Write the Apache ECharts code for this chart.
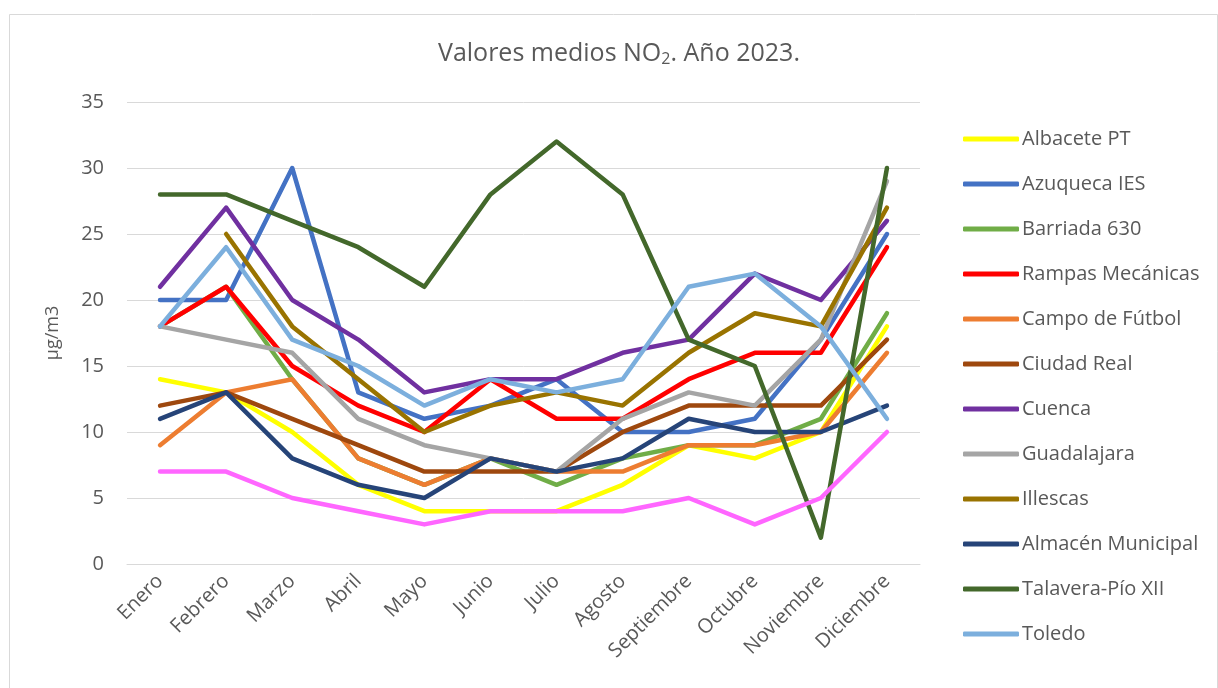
<!DOCTYPE html>
<html>
<head>
<meta charset="utf-8">
<script src="https://cdn.jsdelivr.net/npm/echarts@6/dist/echarts.min.js"></script>
<style>html,body{margin:0;padding:0;background:#fff}#c{width:1218px;height:688px}</style>
</head>
<body>
<div id="c"></div>
<script>
const months = ['Enero','Febrero','Marzo','Abril','Mayo','Junio','Julio','Agosto','Septiembre','Octubre','Noviembre','Diciembre'];
const yTicks = {min: 0, max: 35, interval: 5};

const albacete    = [14,13,10,6,4,4,4,6,9,8,10,18];
const azuqueca    = [20,20,30,13,11,12,14,10,10,11,17,25];
const barriada    = [18,21,14,8,6,8,6,8,9,9,11,19];
const rampas      = [18,21,15,12,10,14,11,11,14,16,16,24];
const campo       = [9,13,14,8,6,8,7,7,9,9,10,16];
const ciudadReal  = [12,13,11,9,7,7,7,10,12,12,12,17];
const cuenca      = [21,27,20,17,13,14,14,16,17,22,20,26];
const guadalajara = [18,17,16,11,9,8,7,11,13,12,17,29];
const illescas    = [null,25,18,14,10,12,13,12,16,19,18,27];
const almacen     = [11,13,8,6,5,8,7,8,11,10,10,12];
const talavera    = [28,28,26,24,21,28,32,28,17,15,2,30];
const toledo      = [18,24,17,15,12,14,13,14,21,22,18,11];
const sinLeyenda  = [7,7,5,4,3,4,4,4,5,3,5,10];

const names = ['Albacete PT','Azuqueca IES','Barriada 630','Rampas Mecánicas','Campo de Fútbol','Ciudad Real','Cuenca','Guadalajara','Illescas','Almacén Municipal','Talavera-Pío XII','Toledo'];
const dataSets = [albacete,azuqueca,barriada,rampas,campo,ciudadReal,cuenca,guadalajara,illescas,almacen,talavera,toledo];
const colors = ['#FFFF00','#4472C4','#70AD47','#FF0000','#ED7D31','#9E480E','#7030A0','#A5A5A5','#997300','#264478','#43682B','#7CAFDD'];

const series = names.map((n,i)=>({
  name:n, type:'line', data:dataSets[i], symbol:'none', connectNulls:false,
  lineStyle:{width:4.5, color:colors[i], cap:'round', join:'round'},
  itemStyle:{color:colors[i]}
}));
series.push({
  name:'Serie 13', type:'line', data:sinLeyenda, symbol:'none',
  lineStyle:{width:4.5, color:'#FF66FF', cap:'round', join:'round'},
  itemStyle:{color:'#FF66FF'}
});

const FONT = '"Open Sans", sans-serif';
const chart = echarts.init(document.getElementById('c'), null, {renderer:'canvas'});
chart.setOption({
  animation:false,
  backgroundColor:'#fff',
  textStyle:{fontFamily:FONT},
  graphic:[{type:'rect', shape:{x:9.5,y:14.5,width:1208,height:690}, style:{fill:'none', stroke:'#d9d9d9', lineWidth:1}, silent:true}],
  title:{
    text:'Valores medios NO{sub|2}. Año 2023.',
    left:438, top:40, padding:0,
    textStyle:{fontFamily:FONT, fontSize:25, fontWeight:'normal', color:'#595959',
      rich:{sub:{fontFamily:FONT, fontSize:16, color:'#595959', padding:[11,0,0,0]}}}
  },
  grid:{left:127, right:298, top:102, bottom:124},
  legend:{
    data:names, orient:'vertical', left:958, top:122,
    itemWidth:56, itemHeight:5, itemGap:21, icon:'roundRect',
    textStyle:{fontFamily:FONT, fontSize:20, color:'#595959', lineHeight:24, padding:[0,0,0,-2]}
  },
  xAxis:{
    type:'category', data:months, boundaryGap:true,
    axisLine:{lineStyle:{color:'#d9d9d9', width:1}},
    axisTick:{show:false},
    axisLabel:{rotate:45, fontSize:20, color:'#595959', margin:14, interval:0, fontFamily:FONT}
  },
  yAxis:{
    type:'value', min:yTicks.min, max:yTicks.max, interval:yTicks.interval,
    name:'µg/m3', nameLocation:'middle', nameGap:65,
    nameTextStyle:{fontSize:18, color:'#595959', fontFamily:FONT},
    axisLine:{show:false}, axisTick:{show:false},
    axisLabel:{fontSize:20, color:'#595959', margin:23, fontFamily:FONT},
    splitLine:{lineStyle:{color:'#d9d9d9', width:1}}
  },
  series:series
});
</script>
</body>
</html>
